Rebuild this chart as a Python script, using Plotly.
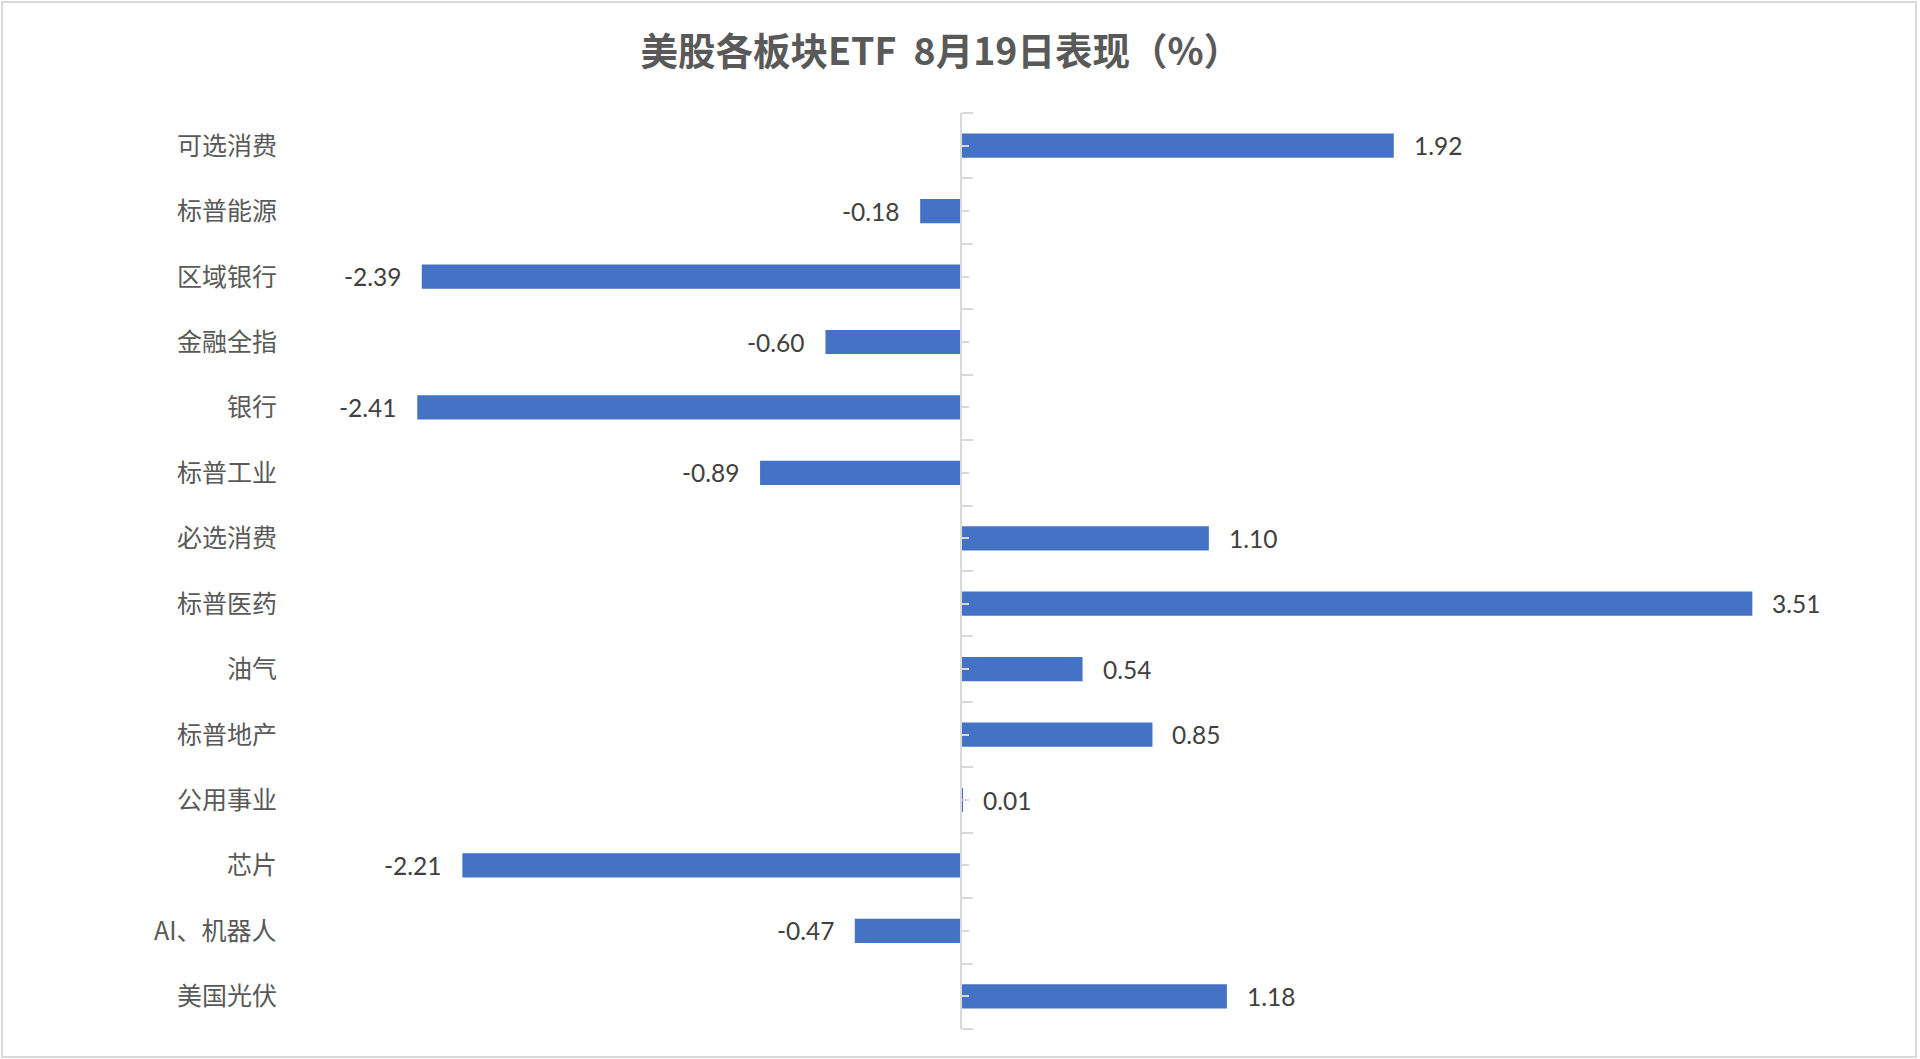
import plotly.graph_objects as go

# sector ETFs, top to bottom as in the chart
sectors = ["可选消费", "标普能源", "区域银行", "金融全指", "银行", "标普工业", "必选消费",
           "标普医药", "油气", "标普地产", "公用事业", "芯片", "AI、机器人", "美国光伏"]
changes = [1.92, -0.18, -2.39, -0.60, -2.41, -0.89, 1.10,
           3.51, 0.54, 0.85, 0.01, -2.21, -0.47, 1.18]

rows = list(range(len(sectors)))

GRID = "#d9d9d9"
TEXT = "#595959"

fig = go.Figure()
fig.add_trace(go.Bar(
    x=changes, y=rows, orientation="h",
    width=0.37,
    marker=dict(color="#4472c4", line=dict(width=0)),
    hoverinfo="skip",
))

# sector names sit at the left edge, like Excel's "low" label position
for i, name in enumerate(sectors):
    fig.add_annotation(
        text=name, x=-0.014, xref="paper", y=i, yref="y", yshift=2,
        xanchor="right", yanchor="middle", showarrow=False,
        font=dict(family="Noto Sans CJK SC", size=25, color=TEXT))

# value labels just past the end of each bar
for i, v in enumerate(changes):
    fig.add_annotation(
        text=f"{v:.2f}", x=v, y=i, xref="x", yref="y",
        xanchor="left" if v >= 0 else "right", xshift=18 if v >= 0 else -18,
        yanchor="middle", showarrow=False,
        font=dict(family="Lato, Open Sans, sans-serif", size=24.5, color="#404040"))

x_range = [-2.93, 3.81]
zero_pos = (0 - x_range[0]) / (x_range[1] - x_range[0])

fig.update_layout(
    width=1920, height=1059,
    margin=dict(l=300, r=100, t=113, b=30),
    plot_bgcolor="white", paper_bgcolor="white",
    showlegend=False,
    title=dict(text="<b>美股各板块ETF  8月19日表现（%）</b>",
               x=0.49, xanchor="center", y=0.951, yanchor="middle",
               font=dict(family="Noto Sans CJK SC", size=37.5, color=TEXT)),
    xaxis=dict(range=x_range, visible=False, fixedrange=True),
    yaxis=dict(range=[len(sectors) - 0.5, -0.5], anchor="free", position=zero_pos,
               side="right", showticklabels=False, showgrid=False, zeroline=False,
               showline=True, linecolor=GRID, linewidth=2,
               tickmode="linear", tick0=-0.5, dtick=1,
               ticks="outside", ticklen=11, tickwidth=2, tickcolor=GRID,
               minor=dict(tickmode="linear", tick0=0, dtick=1, ticks="outside",
                          ticklen=7, tickwidth=2, tickcolor=GRID),
               fixedrange=True),
)

# thin chart-area border
fig.add_shape(type="rect", xref="paper", yref="paper",
              x0=-298 / 1520, x1=1616 / 1520, y0=-28 / 916, y1=1 + 111 / 916,
              line=dict(color=GRID, width=2), layer="below")

fig.write_html("out.html", config={"displayModeBar": False},
               post_script="document.body.style.margin='0';")
